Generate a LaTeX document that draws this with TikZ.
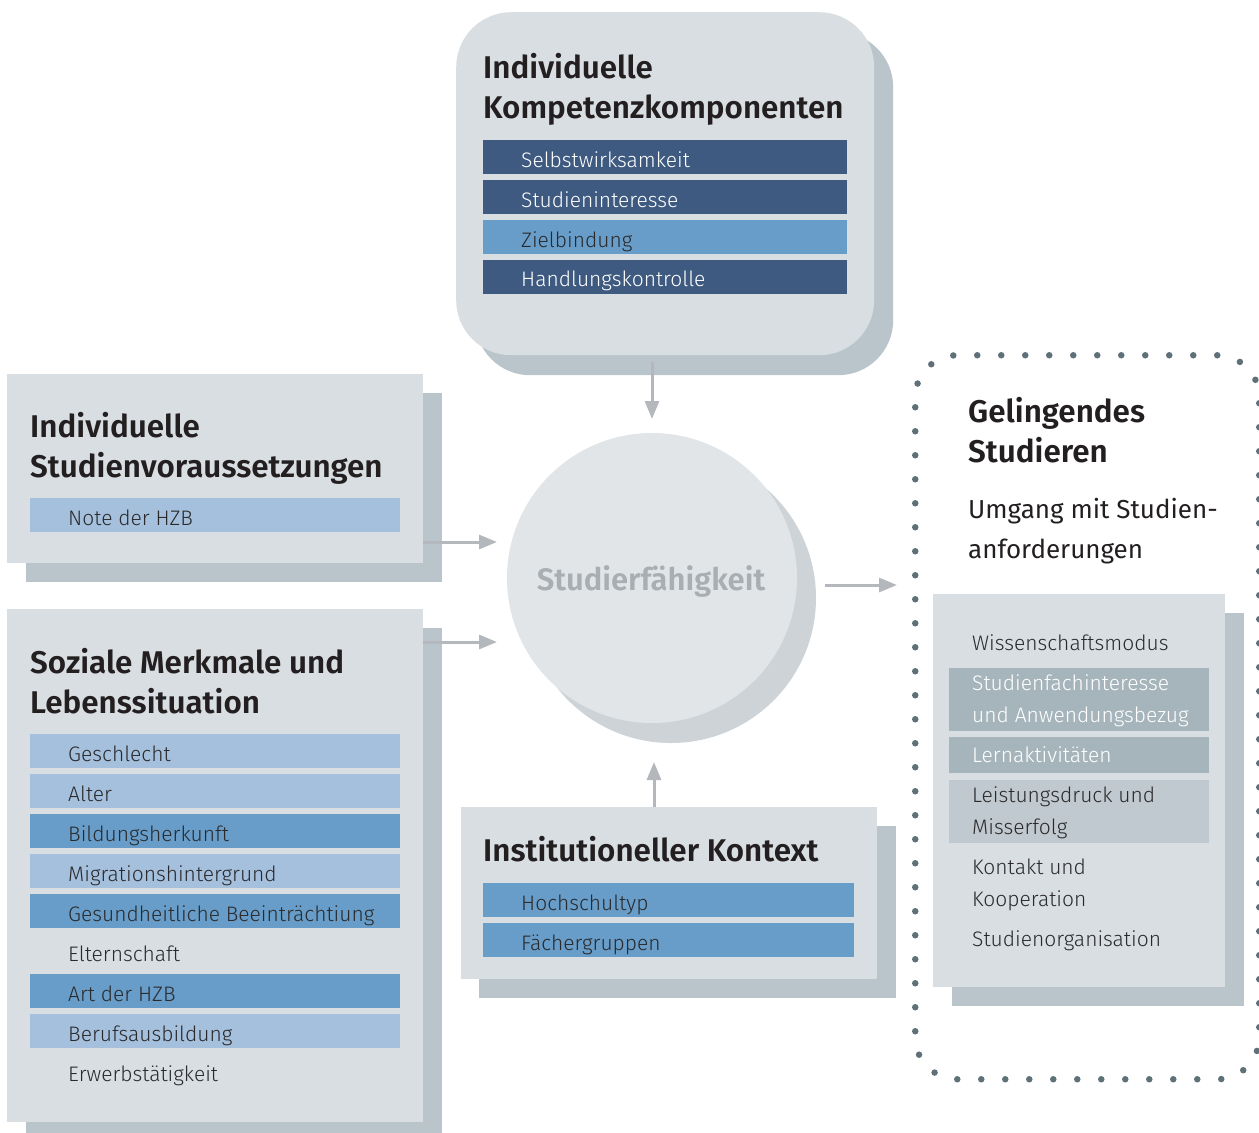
\documentclass[tikz,border=0pt]{standalone}
\usepackage{fontspec}
\setmainfont{Fira Sans}[UprightFont={* Light}, BoldFont={* SemiBold}]
\newfontfamily\leadfont{Fira Sans}
\usetikzlibrary{arrows.meta}

\definecolor{panelfill}{HTML}{D8DEE1}
\definecolor{panelshade}{HTML}{BAC5CB}
\definecolor{discfill}{HTML}{E1E5E7}
\definecolor{discshade}{HTML}{CDD3D6}
\definecolor{bardark}{HTML}{3E5A80}
\definecolor{barmid}{HTML}{679DC8}
\definecolor{barlight}{HTML}{A5C0DD}
\definecolor{bargrey}{HTML}{A6B5BC}
\definecolor{barpale}{HTML}{C0C9CF}
\definecolor{inkdark}{HTML}{231F20}
\definecolor{inkbody}{HTML}{2A2A2C}
\definecolor{arrowgrey}{HTML}{B4B7BC}
\definecolor{dotgrey}{HTML}{5F7079}
\definecolor{discink}{HTML}{A9AEB2}

\tikzset{
  panel/.style={fill=panelfill, draw=none, anchor=north west, inner sep=0pt},
  shade/.style={fill=panelshade, draw=none, anchor=north west, inner sep=0pt},
  bar/.style={draw=none, anchor=north west, inner sep=0pt, minimum height=34pt},
  heading/.style={anchor=base west, inner sep=0pt, text=inkdark, font=\fontsize{31.4}{40}\selectfont\bfseries},
  item/.style={anchor=base west, inner sep=0pt, text=inkbody, font=\fontsize{21}{32}\selectfont},
  lead/.style={anchor=base west, inner sep=0pt, text=inkdark, font=\leadfont\fontsize{26}{40}\selectfont},
  flow/.style={draw=arrowgrey, line width=3pt, -{Triangle[length=18pt, width=14pt]}},
}

\begin{document}
\begin{tikzpicture}[x=1pt, y=-1pt]
\useasboundingbox (0,0) rectangle (1259,1133);

% ---------- Individuelle Kompetenzkomponenten ----------
\node[shade, rounded corners=55pt, minimum width=418pt, minimum height=343pt] (kompS) at (475,32) {};
\node[panel, rounded corners=55pt, minimum width=418pt, minimum height=343pt] (komp) at (456,12) {};
\node[heading] (kompT1) at (483,78) {Individuelle};
\node[heading] (kompT2) at (483,118) {Kompetenzkomponenten};
\node[bar, fill=bardark, minimum width=364pt] (kb1) at (483,140) {};
\node[bar, fill=bardark, minimum width=364pt] (kb2) at (483,180) {};
\node[bar, fill=barmid,  minimum width=364pt] (kb3) at (483,220) {};
\node[bar, fill=bardark, minimum width=364pt] (kb4) at (483,260) {};
\node[item, text=white] (kt1) at (521,167) {Selbstwirksamkeit};
\node[item, text=white] (kt2) at (521,207) {Studieninteresse};
\node[item] (kt3) at (521,247) {Zielbindung};
\node[item, text=white] (kt4) at (521,286) {Handlungskontrolle};

% ---------- Individuelle Studienvoraussetzungen ----------
\node[shade, minimum width=416pt, minimum height=189pt] (svS) at (26,393) {};
\node[panel, minimum width=416pt, minimum height=189pt] (sv) at (7,374) {};
\node[heading] (svT1) at (30,437) {Individuelle};
\node[heading] (svT2) at (30,477) {Studienvoraussetzungen};
\node[bar, fill=barlight, minimum width=370pt] (svb1) at (30,498) {};
\node[item] (svt1) at (68,525) {Note der HZB};

% ---------- Soziale Merkmale und Lebenssituation ----------
\node[shade, minimum width=416pt, minimum height=520pt] (smS) at (26,628) {};
\node[panel, minimum width=416pt, minimum height=513pt] (sm) at (7,609) {};
\node[heading] (smT1) at (30,673) {Soziale Merkmale und};
\node[heading] (smT2) at (30,713) {Lebenssituation};
\node[bar, fill=barlight, minimum width=370pt] (smb1) at (30,734) {};
\node[bar, fill=barlight, minimum width=370pt] (smb2) at (30,774) {};
\node[bar, fill=barmid,   minimum width=370pt] (smb3) at (30,814) {};
\node[bar, fill=barlight, minimum width=370pt] (smb4) at (30,854) {};
\node[bar, fill=barmid,   minimum width=370pt] (smb5) at (30,894) {};
\node[bar, fill=barmid,   minimum width=370pt] (smb7) at (30,974) {};
\node[bar, fill=barlight, minimum width=370pt] (smb8) at (30,1014) {};
\node[item] (smt1) at (68,761) {Geschlecht};
\node[item] (smt2) at (68,801) {Alter};
\node[item] (smt3) at (68,841) {Bildungsherkunft};
\node[item] (smt4) at (68,881) {Migrationshintergrund};
\node[item] (smt5) at (68,921) {Gesundheitliche Beeinträchtiung};
\node[item] (smt6) at (68,961) {Elternschaft};
\node[item] (smt7) at (68,1001) {Art der HZB};
\node[item] (smt8) at (68,1041) {Berufsausbildung};
\node[item] (smt9) at (68,1081) {Erwerbstätigkeit};

% ---------- Institutioneller Kontext ----------
\node[shade, minimum width=417pt, minimum height=172pt] (ikS) at (479,826) {};
\node[panel, minimum width=416pt, minimum height=172pt] (ik) at (461,807) {};
\node[heading] (ikT) at (483,861) {Institutioneller Kontext};
\node[bar, fill=barmid, minimum width=371pt] (ikb1) at (483,883) {};
\node[bar, fill=barmid, minimum width=371pt] (ikb2) at (483,923) {};
\node[item] (ikt1) at (521,910) {Hochschultyp};
\node[item] (ikt2) at (521,950) {Fächergruppen};

% ---------- Studierfähigkeit ----------
\node[circle, fill=discshade, minimum size=290pt, inner sep=0pt] (sfS) at (671,598) {};
\node[circle, fill=discfill, minimum size=290pt, inner sep=0pt] (sf) at (652,578) {};
\node[font=\fontsize{31}{36}\selectfont\bfseries, text=discink, inner sep=0pt] (sfT) at (651,581) {Studierfähigkeit};

% ---------- Gelingendes Studieren ----------
% dot spacing = perimeter / 86, so the dotted outline closes evenly
\node[draw=dotgrey, line width=6.5pt, line cap=round, dash pattern=on 0pt off 23.9988pt,
      rounded corners=42pt, anchor=north west, minimum width=344pt, minimum height=724pt,
      inner sep=0pt] (gs) at (912,352) {};
\node[heading] (gsT1) at (968,422) {Gelingendes};
\node[heading] (gsT2) at (968,462) {Studieren};
\node[lead] (gsU1) at (968,518) {Umgang mit Studien-};
\node[lead] (gsU2) at (968,558) {anforderungen};
\node[shade, minimum width=292pt, minimum height=393pt] (gsS) at (952,613) {};
\node[panel, minimum width=292pt, minimum height=393pt] (gsp) at (933,594) {};
\node[bar, fill=bargrey, minimum width=260pt, minimum height=63pt] (gsb1) at (949,668) {};
\node[bar, fill=bargrey, minimum width=260pt, minimum height=36pt] (gsb2) at (949,737) {};
\node[bar, fill=barpale, minimum width=260pt, minimum height=63pt] (gsb3) at (949,780) {};
\node[item] (gst1) at (972,650) {Wissenschaftsmodus};
\node[item, text=white] (gst2a) at (972,690) {Studienfachinteresse};
\node[item, text=white] (gst2b) at (972,722) {und Anwendungsbezug};
\node[item, text=white] (gst3) at (972,762) {Lernaktivitäten};
\node[item] (gst4a) at (972,802) {Leistungsdruck und};
\node[item] (gst4b) at (972,834) {Misserfolg};
\node[item] (gst5a) at (972,874) {Kontakt und};
\node[item] (gst5b) at (972,906) {Kooperation};
\node[item] (gst6) at (972,946) {Studienorganisation};

% ---------- Connectors ----------
\coordinate (inTop) at (652,419);
\coordinate (inLeftA) at (497,542);
\coordinate (inLeftB) at (497,642);
\coordinate (inBottom) at (654,762);
\coordinate (outRight) at (897,585);
\draw[flow] (komp.south -| inTop) ++(0,7) -- (inTop);
\draw[flow] (sv.east |- inLeftA) -- (inLeftA);
\draw[flow] (sm.east |- inLeftB) -- (inLeftB);
\draw[flow] (ik.north -| inBottom) -- (inBottom);
\draw[flow] (sf.east |- outRight) ++(28,0) -- (outRight);
\end{tikzpicture}
\end{document}
